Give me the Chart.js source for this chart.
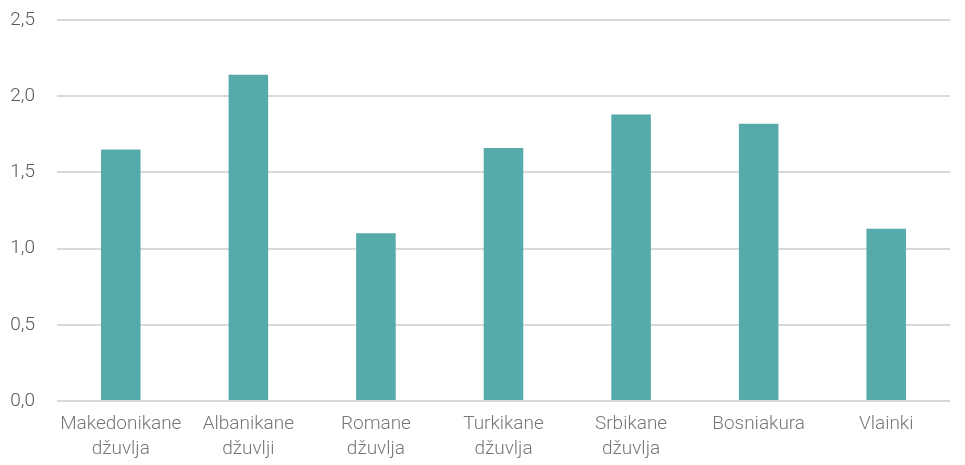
<!DOCTYPE html>
<html>
<head>
<meta charset="utf-8">
<script src="https://cdn.jsdelivr.net/npm/chart.js@4/dist/chart.umd.min.js"></script>
<style>
  html, body { margin: 0; padding: 0; background: #fff; }
  #wrap { width: 965px; height: 465px; }
</style>
</head>
<body>
<div id="wrap"><canvas id="barChart"></canvas></div>
<script>
// categories (two-line labels)
const categories = [
  ['Makedonikane', 'džuvlja'],
  ['Albanikane', 'džuvlji'],
  ['Romane', 'džuvlja'],
  ['Turkikane', 'džuvlja'],
  ['Srbikane', 'džuvlja'],
  ['Bosniakura'],
  ['Vlainki']
];
const values = [1.65, 2.14, 1.10, 1.66, 1.88, 1.82, 1.13];
const yTicks = [0, 0.5, 1.0, 1.5, 2.0, 2.5];

const barColor = '#56abaa';

const el = document.getElementById('barChart');

new Chart(el, {
  type: 'bar',
  data: {
    labels: categories,
    datasets: [{
      data: values,
      backgroundColor: barColor,
      categoryPercentage: 1,
      barPercentage: 0.31
    }]
  },
  options: {
    responsive: true,
    maintainAspectRatio: false,
    animation: false,
    layout: { padding: { left: 0, right: 15, top: 20, bottom: 0 } },
    plugins: {
      legend: { display: false },
      tooltip: { enabled: false }
    },
    scales: {
      x: {
        grid: { display: false },
        border: { display: false },
        ticks: {
          color: '#777777',
          font: { family: 'Roboto', size: 19, weight: '300', lineHeight: 1.32 },
          maxRotation: 0,
          autoSkip: false,
          padding: 3
        },
        afterFit: (scale) => { scale.height = 64; }
      },
      y: {
        min: 0,
        max: 2.5,
        afterBuildTicks: (scale) => {
          scale.ticks = yTicks.map((v) => ({ value: v }));
        },
        grid: { color: '#d9d9d9', lineWidth: 2, drawTicks: false },
        border: { display: false },
        ticks: {
          color: '#595959',
          font: { family: 'Roboto', size: 19, weight: '300' },
          padding: 22,
          callback: (v) => Number(v).toFixed(1).replace('.', ',')
        },
        afterFit: (scale) => { scale.width = 57; scale.paddingTop = 0; }
      }
    }
  }
});
</script>
</body>
</html>
